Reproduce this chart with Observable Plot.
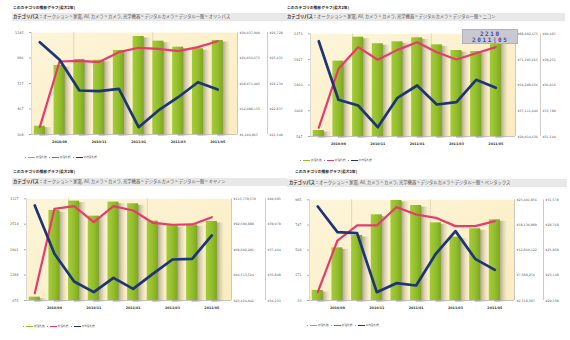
<!DOCTYPE html>
<html><head><meta charset="utf-8">
<script src="https://cdn.jsdelivr.net/npm/d3@7"></script>
<script src="https://cdn.jsdelivr.net/npm/@observablehq/plot@0.6"></script>
<style>
body{margin:0;background:#fff;font-family:"Noto Sans CJK JP","Noto Sans",sans-serif;}
#root{position:relative;width:570px;height:340px;overflow:hidden;}
.panel{position:absolute;}
.title{position:absolute;font-size:3.8px;font-weight:bold;color:#222;white-space:nowrap;line-height:5px;}
.path{position:absolute;background:#e8e8e8;font-size:4.3px;color:#555;white-space:nowrap;line-height:7.5px;height:7.5px;padding-left:1px;box-sizing:border-box;}
.path b{color:#333;}
.legend{position:absolute;font-size:2.7px;color:#666;white-space:nowrap;display:flex;align-items:center;line-height:4px;}
.legend .sw{display:inline-block;width:7px;height:1px;margin:0 1px 0 2px;}
.legend .dot{display:inline-block;width:1px;height:1px;background:#999;margin-left:2px;}
.stack{position:absolute;left:0;top:0;}
.stack svg{position:absolute;left:0;top:0;max-width:none;}
.tip{position:absolute;background:rgba(196,196,208,0.92);border:0.5px solid #b0b0c0;color:#4b48a6;font-family:"DejaVu Sans Mono",monospace;font-weight:bold;font-size:6px;letter-spacing:1.6px;line-height:6.5px;text-align:center;white-space:pre;box-sizing:border-box;padding-top:1px;}
</style>
</head><body><div id="root"></div>
<script>
// ---- data ----
const months = ["2010/08","2010/09","2010/10","2010/11","2010/12","2011/01","2011/02","2011/03","2011/04","2011/05"];
const tickLabels = ["2010/09","2010/11","2011/01","2011/03","2011/05"];
const gridBefore = ["2010/10","2011/02"];
const seriesNames = ["総落札数","総落札額","平均落札額"];
const pathPrefix = "オークション > 家電, AV, カメラ > カメラ, 光学機器 > デジタルカメラ > デジタル一眼 > ";

const olyCount = [292, 910, 971, 963, 1062, 1205, 1157, 1096, 1080, 1164];
const olyTotal = [7820000, 23230000, 23400000, 23100000, 25420000, 26450000, 26200000, 25650000, 26600000, 28000000];
const olyAvg   = [26234, 25339, 23778, 23742, 23864, 21911, 22761, 23437, 24200, 23829];
const olyLeftTicks  = [208, 467, 727, 986, 1245];
const olyTotalTicks = [6104863, 12088133, 18071403, 24054673, 30037940];
const olyAvgTicks   = [21540, 22837, 24134, 25431, 26728];

const nikCount = [654, 1887, 2313, 2196, 2231, 2302, 2177, 2076, 2058, 2210];
const nikTotal = [25800000, 65100000, 79500000, 71100000, 77700000, 82800000, 76100000, 71300000, 75500000, 79500000];
const nikAvg   = [39843, 34740, 34243, 32354, 34914, 35985, 34331, 34531, 36481, 35785];
const nikLeftTicks  = [547, 1004, 1460, 1917, 2373];
const nikTotalTicks = [20014636, 37111646, 54208656, 71305665, 88402675];
const nikAvgTicks   = [31544, 33780, 36016, 38251, 40487];

const canCount = [755, 2846, 3071, 2709, 3047, 3007, 2589, 2484, 2500, 2581];
const canTotal = [30090000, 106700000, 109100000, 94600000, 109100000, 105200000, 94000000, 92200000, 92500000, 99100000];
const canAvg   = [40272, 37200, 35441, 34763, 35674, 34975, 35928, 36839, 36882, 38365];
const canLeftTicks  = [675, 1288, 1901, 2514, 3127];
const canTotalTicks = [23424842, 46513524, 69602206, 92690888, 115779570];
const canAvgTicks   = [34233, 35848, 37464, 39079, 40695];

const penCount = [128, 531, 648, 843, 979, 931, 767, 632, 711, 796];
const penTotal = [4060000, 14880000, 18030000, 18030000, 21870000, 20330000, 19630000, 17890000, 17890000, 18930000];
const penAvg   = [30834, 27968, 27856, 21268, 22273, 22013, 25549, 28080, 24990, 23762];
const penLeftTicks  = [33, 271, 509, 747, 985];
const penTotalTicks = [2318387, 7589254, 12860122, 18130989, 23401856];
const penAvgTicks   = [20338, 23148, 25958, 28768, 31578];

// ---- layout (not data) ----
const layouts = [
  {ox:0,   oy:0,   w:290, h:170, L:31, R:237, T:32,   B:134, off2:30, title:[13,4.5], band:[12,13,275], legend:[23,155]},
  {ox:285, oy:0,   w:285, h:170, L:25, R:230, T:33.3, B:136, off2:25, title:[2,4.5],  band:[0,13,280],  legend:[13,158]},
  {ox:0,   oy:165, w:290, h:175, L:26, R:231, T:33.3, B:135, off2:34, title:[13,3.5], band:[12,13,275], legend:[21,159]},
  {ox:285, oy:165, w:285, h:175, L:24, R:229, T:34.3, B:135, off2:29, title:[10,3.5], band:[2,14,280],  legend:[20,158]}
];
const panels = [
  {brand:"オリンパス",   count:olyCount, total:olyTotal, avg:olyAvg, leftTicks:olyLeftTicks, totalTicks:olyTotalTicks, avgTicks:olyAvgTicks},
  {brand:"ニコン",       count:nikCount, total:nikTotal, avg:nikAvg, leftTicks:nikLeftTicks, totalTicks:nikTotalTicks, avgTicks:nikAvgTicks, tip:true},
  {brand:"キヤノン",     count:canCount, total:canTotal, avg:canAvg, leftTicks:canLeftTicks, totalTicks:canTotalTicks, avgTicks:canAvgTicks},
  {brand:"ペンタックス", count:penCount, total:penTotal, avg:penAvg, leftTicks:penLeftTicks, totalTicks:penTotalTicks, avgTicks:penAvgTicks}
];
const colors = {bar:"#93be2c", pink:"#e83b6d", navy:"#1d3577"};
const xDomain = [-0.42, 10.0];
const barHalf = 0.28, shadowW = 0.62;
const fmtYen = d => "¥" + d3.format(",")(d);

const root = document.getElementById("root");

function el(tag, cls, parent){ const e=document.createElement(tag); if(cls) e.className=cls; parent.appendChild(e); return e; }

panels.forEach((p, k) => {
  const g = layouts[k];
  const div = el("div","panel",root);
  Object.assign(div.style,{left:g.ox+"px",top:g.oy+"px",width:g.w+"px",height:g.h+"px"});
  const t = el("div","title",div); t.textContent = "このカテゴリの推移グラフ(最大2年)";
  Object.assign(t.style,{left:g.title[0]+"px",top:g.title[1]+"px"});
  const pa = el("div","path",div);
  pa.innerHTML = "<b>カテゴリパス：</b>" + pathPrefix + p.brand;
  Object.assign(pa.style,{left:g.band[0]+"px",top:g.band[1]+"px",width:g.band[2]+"px",paddingLeft:(k%2?2:1)+"px"});

  const data = months.map((m,i)=>({i, month:m, count:p.count[i], total:p.total[i], avg:p.avg[i]}));
  const yMin = p.leftTicks[0];
  const common = {width:g.w, height:g.h, marginLeft:g.L, marginRight:g.w-g.R, marginTop:g.T, marginBottom:g.h-g.B,
    x:{domain:xDomain, axis:null}, style:{background:"none", overflow:"visible", fontFamily:"DejaVu Sans, sans-serif", maxWidth:"none"}};
  const tickIdx = tickLabels.map(t=>months.indexOf(t));

  const defs = () => {
    const d = d3.create("svg:defs");
    const bg = d.append("linearGradient").attr("id","bg"+k).attr("x1",0).attr("y1",0).attr("x2",1).attr("y2",1);
    bg.append("stop").attr("offset","0%").attr("stop-color","#fdf5da");
    bg.append("stop").attr("offset","100%").attr("stop-color","#fbecbf");
    const br = d.append("linearGradient").attr("id","bar"+k).attr("x1",0).attr("y1",0).attr("x2",1).attr("y2",0);
    br.append("stop").attr("offset","0%").attr("stop-color","#a3cc3a");
    br.append("stop").attr("offset","55%").attr("stop-color","#93be2c");
    br.append("stop").attr("offset","100%").attr("stop-color","#7ea71f");
    const sh = d.append("linearGradient").attr("id","sh"+k).attr("x1",0).attr("y1",0).attr("x2",1).attr("y2",0);
    sh.append("stop").attr("offset","40%").attr("stop-color","#8c8672").attr("stop-opacity",0.8);
    sh.append("stop").attr("offset","100%").attr("stop-color","#d6ceb0").attr("stop-opacity",0.15);
    return d.node();
  };

  const stack = el("div","stack",div);
  Object.assign(stack.style,{width:g.w+"px",height:g.h+"px"});
  const base = Plot.plot({...common, y:{domain:[yMin, p.leftTicks.at(-1)], axis:null}, marks:[
    defs,
    Plot.frame({fill:`url(#bg${k})`}),
    Plot.ruleX(data.filter(d=>gridBefore.includes(d.month)), {x:d=>d.i-barHalf, stroke:"#d8cca0", strokeWidth:0.7}),
    Plot.rectY(data, {x1:d=>d.i, x2:d=>d.i+shadowW, y1:yMin, y2:"count", fill:`url(#sh${k})`, dy:1.5}),
    Plot.rectY(data, {x1:d=>d.i-barHalf, x2:d=>d.i+barHalf, y1:yMin, y2:"count", fill:`url(#bar${k})`}),
    Plot.ruleX([xDomain[0]], {stroke:"#c4c4c4", strokeWidth:0.6}),
    Plot.ruleY([yMin], {stroke:"#b0b0b0", strokeWidth:0.7}),
    Plot.axisY({label:null, ticks:p.leftTicks, tickFormat:d=>String(d), tickSize:2, tickPadding:6, fontSize:3.3, fill:"#555", stroke:"#aaa"}),
    Plot.axisX({label:null, ticks:tickIdx, tickFormat:i=>months[i], tickSize:0, tickPadding:6, fontSize:3.3, fontWeight:"bold", fill:"#333"})
  ]});
  stack.appendChild(base);

  const pink = Plot.plot({...common, y:{domain:[p.totalTicks[0], p.totalTicks.at(-1)], axis:null}, marks:[
    Plot.ruleX([xDomain[1]], {stroke:"#aaa", strokeWidth:0.6}),
    Plot.lineY(data, {x:"i", y:"total", stroke:colors.pink, strokeWidth:2.2}),
    Plot.axisY({label:null, anchor:"right", ticks:p.totalTicks, tickFormat:fmtYen, tickSize:0, tickPadding:2, fontSize:3.2, fill:"#555"})
  ]});
  stack.appendChild(pink);

  const navy = Plot.plot({...common, y:{domain:[p.avgTicks[0], p.avgTicks.at(-1)], axis:null}, marks:[
    Plot.ruleX([xDomain[1]], {dx:g.off2, stroke:"#aaa", strokeWidth:0.6}),
    Plot.lineY(data, {x:"i", y:"avg", stroke:colors.navy, strokeWidth:2.7}),
    Plot.axisY({label:null, anchor:"right", dx:g.off2, ticks:p.avgTicks, tickFormat:fmtYen, tickSize:0, tickPadding:2, fontSize:3.2, fill:"#555"})
  ]});
  stack.appendChild(navy);

  if (p.tip) {
    const last = data.at(-1);
    const sx = base.scale("x");
    const tip = el("div","tip",div);
    tip.textContent = last.count + "\n" + last.month.replace("/","|");
    const cx = sx.apply(last.i) - 5;
    Object.assign(tip.style,{left:(cx-28)+"px", top:(g.T-4.5)+"px", width:"56px", height:"15px"});
  }

  const lg = el("div","legend",div);
  Object.assign(lg.style,{left:g.legend[0]+"px",top:g.legend[1]+"px"});
  [colors.bar, colors.pink, colors.navy].forEach((c,j)=>{
    el("span","dot",lg);
    const sw = el("span","sw",lg); sw.style.background = c;
    const tx = el("span","",lg); tx.textContent = seriesNames[j];
  });
});
</script></body></html>
